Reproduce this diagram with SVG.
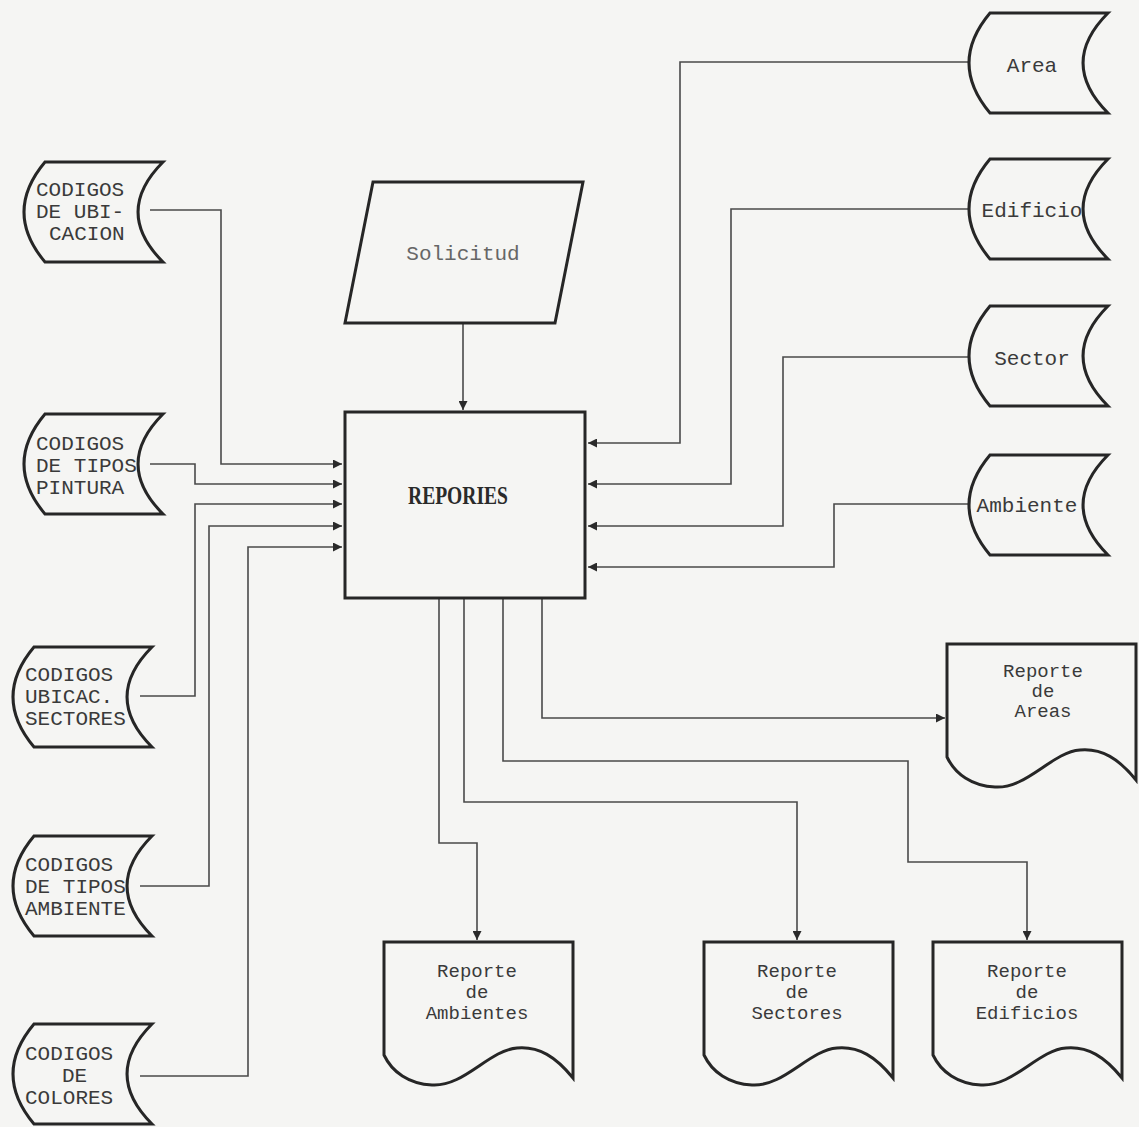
<svg xmlns="http://www.w3.org/2000/svg" width="1139" height="1127" viewBox="0 0 1139 1127">
<style>
.shape{fill:none;stroke:#262626;stroke-width:3;stroke-linejoin:miter}
.conn{fill:none;stroke:#4a4a4a;stroke-width:1.6}
.t{font-family:"Liberation Mono","DejaVu Sans Mono",monospace;font-size:21px;fill:#3a3a3a}
.r{font-family:"Liberation Mono","DejaVu Sans Mono",monospace;font-size:19px;fill:#3a3a3a;text-anchor:middle}
.tm{text-anchor:middle}
.light{fill:#666}
.bold{font-family:"Liberation Serif","DejaVu Serif",serif;font-weight:bold;font-size:25px;fill:#2a2a2a;text-anchor:middle}
</style>
<defs>
<marker id="ah" viewBox="0 0 10 10" refX="10" refY="5" markerWidth="10" markerHeight="9" markerUnits="userSpaceOnUse" orient="auto">
<path d="M0,0 L10,5 L0,10 Z" fill="#2a2a2a"/>
</marker>
<path id="store" d="M21,0 H139 Q89,50 139,100 H21 Q-21,50 21,0 Z"/>
<path id="doc" d="M0,0 H189 V136 C172,115 155,104 133,106 C105,108 80,145 48,143 C25,142 8,130 0,113 Z"/>
</defs>
<rect x="0" y="0" width="1139" height="1127" fill="#f5f5f3"/>

<g id="connectors">
<path class="conn" d="M463,324 V410" marker-end="url(#ah)"/>
<path class="conn" d="M150,210 H221 V464 H342" marker-end="url(#ah)"/>
<path class="conn" d="M150,464 H195 V484 H342" marker-end="url(#ah)"/>
<path class="conn" d="M140,696 H195 V504 H342" marker-end="url(#ah)"/>
<path class="conn" d="M140,886 H209 V526 H342" marker-end="url(#ah)"/>
<path class="conn" d="M140,1076 H248 V547 H342" marker-end="url(#ah)"/>
<path class="conn" d="M969,62 H680 V443 H588" marker-end="url(#ah)"/>
<path class="conn" d="M969,209 H731 V484 H588" marker-end="url(#ah)"/>
<path class="conn" d="M969,357 H783 V526 H588" marker-end="url(#ah)"/>
<path class="conn" d="M969,504 H834 V567 H588" marker-end="url(#ah)"/>
<path class="conn" d="M542,598 V718 H945" marker-end="url(#ah)"/>
<path class="conn" d="M503,598 V761 H908 V862 H1027 V940" marker-end="url(#ah)"/>
<path class="conn" d="M464,598 V802 H797 V940" marker-end="url(#ah)"/>
<path class="conn" d="M439,598 V843 H477 V940" marker-end="url(#ah)"/>
</g>

<g id="solicitud">
<path class="shape" d="M373,182 H583 L555,323 H345 Z"/>
<text class="t tm light" x="463" y="260">Solicitud</text>
</g>

<g id="reportes">
<rect class="shape" x="345" y="412" width="240" height="186"/>
<text class="bold" x="458" y="504" textLength="100" lengthAdjust="spacingAndGlyphs">REPORIES</text>
</g>

<g id="cod-ubicacion">
<use href="#store" class="shape" transform="translate(24,162)"/>
<text class="t" x="36" y="196">CODIGOS</text>
<text class="t" x="36" y="218">DE UBI-</text>
<text class="t" x="49" y="240">CACION</text>
</g>
<g id="cod-pintura">
<use href="#store" class="shape" transform="translate(24,414)"/>
<text class="t" x="36" y="450">CODIGOS</text>
<text class="t" x="36" y="472">DE TIPOS</text>
<text class="t" x="36" y="494">PINTURA</text>
</g>
<g id="cod-sectores">
<use href="#store" class="shape" transform="translate(13,647)"/>
<text class="t" x="25" y="681">CODIGOS</text>
<text class="t" x="25" y="703">UBICAC.</text>
<text class="t" x="25" y="725">SECTORES</text>
</g>
<g id="cod-ambiente">
<use href="#store" class="shape" transform="translate(13,836)"/>
<text class="t" x="25" y="871">CODIGOS</text>
<text class="t" x="25" y="893">DE TIPOS</text>
<text class="t" x="25" y="915">AMBIENTE</text>
</g>
<g id="cod-colores">
<use href="#store" class="shape" transform="translate(13,1024)"/>
<text class="t" x="25" y="1060">CODIGOS</text>
<text class="t" x="62" y="1082">DE</text>
<text class="t" x="25" y="1104">COLORES</text>
</g>

<g id="area">
<use href="#store" class="shape" transform="translate(969,13)"/>
<text class="t tm" x="1032" y="72">Area</text>
</g>
<g id="edificio">
<use href="#store" class="shape" transform="translate(969,159)"/>
<text class="t tm" x="1032" y="217">Edificio</text>
</g>
<g id="sector">
<use href="#store" class="shape" transform="translate(969,306)"/>
<text class="t tm" x="1032" y="365">Sector</text>
</g>
<g id="ambiente">
<use href="#store" class="shape" transform="translate(969,455)"/>
<text class="t tm" x="1027" y="512">Ambiente</text>
</g>

<g id="rep-areas">
<use href="#doc" class="shape" transform="translate(947,644)"/>
<text class="r" x="1043" y="677">Reporte</text>
<text class="r" x="1043" y="697">de</text>
<text class="r" x="1043" y="717">Areas</text>
</g>
<g id="rep-ambientes">
<use href="#doc" class="shape" transform="translate(384,942)"/>
<text class="r" x="477" y="977">Reporte</text>
<text class="r" x="477" y="998">de</text>
<text class="r" x="477" y="1019">Ambientes</text>
</g>
<g id="rep-sectores">
<use href="#doc" class="shape" transform="translate(704,942)"/>
<text class="r" x="797" y="977">Reporte</text>
<text class="r" x="797" y="998">de</text>
<text class="r" x="797" y="1019">Sectores</text>
</g>
<g id="rep-edificios">
<use href="#doc" class="shape" transform="translate(933,942)"/>
<text class="r" x="1027" y="977">Reporte</text>
<text class="r" x="1027" y="998">de</text>
<text class="r" x="1027" y="1019">Edificios</text>
</g>
</svg>
